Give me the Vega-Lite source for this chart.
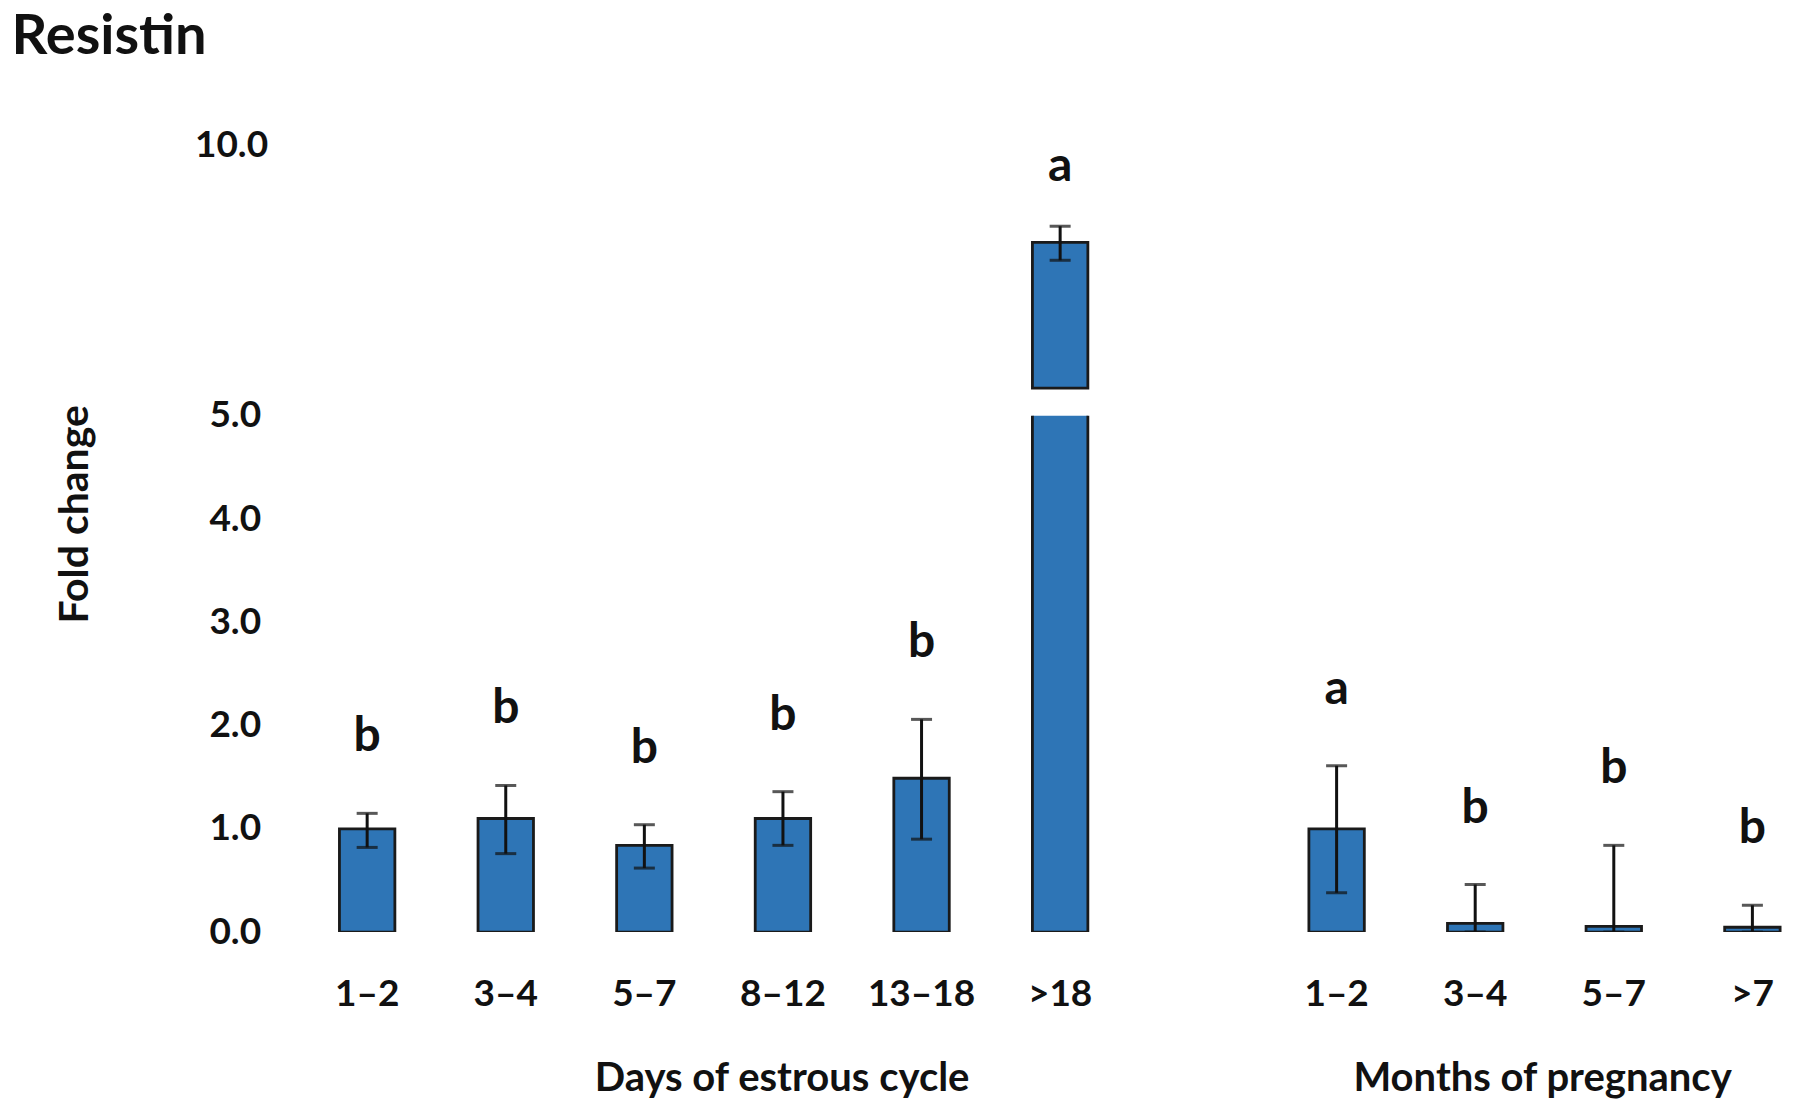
{
  "$schema": "https://vega.github.io/schema/vega-lite/v6.json",
  "background": "white",
  "padding": {"left": 11, "top": 9, "right": 0, "bottom": 0},
  "title": {"text": "Resistin", "anchor": "start", "frame": "group", "dx": -272.4, "offset": 60, "fontSize": 56, "font": "Lato", "fontWeight": "bold", "color": "#111111"},
  "config": {
    "view": {"stroke": null},
    "axis": {"domain": false, "ticks": false, "tickSize": 0, "grid": false, "labelFont": "Lato", "labelFontWeight": "bold", "labelFontSize": 37, "labelColor": "#111111", "titleFont": "Lato", "titleFontWeight": "bold", "titleFontSize": 40, "titleColor": "#111111", "labelOverlap": false}
  },
  "datasets": {
    "fc": [
      {"group": "estrous", "cat": "1–2", "mean": 1.0, "lo": 0.82, "hi": 1.15, "letter": "b"},
      {"group": "estrous", "cat": "3–4", "mean": 1.1, "lo": 0.76, "hi": 1.42, "letter": "b"},
      {"group": "estrous", "cat": "5–7", "mean": 0.84, "lo": 0.62, "hi": 1.04, "letter": "b"},
      {"group": "estrous", "cat": "8–12", "mean": 1.1, "lo": 0.84, "hi": 1.36, "letter": "b"},
      {"group": "estrous", "cat": "13–18", "mean": 1.49, "lo": 0.9, "hi": 2.06, "letter": "b"},
      {"group": "estrous", "cat": ">18", "mean": 8.0, "lo": 7.63, "hi": 8.33, "letter": "a"},
      {"group": "pregnancy", "cat": "1–2", "mean": 1.0, "lo": 0.38, "hi": 1.61, "letter": "a"},
      {"group": "pregnancy", "cat": "3–4", "mean": 0.085, "lo": 0, "hi": 0.46, "letter": "b"},
      {"group": "pregnancy", "cat": "5–7", "mean": 0.056, "lo": 0, "hi": 0.84, "letter": "b"},
      {"group": "pregnancy", "cat": ">7", "mean": 0.047, "lo": 0, "hi": 0.26, "letter": "b"}
    ]
  },
  "bounds": "flush",
  "spacing": 26.8,
  "vconcat": [
    {
      "width": 859.3,
      "height": 243.2,
      "data": {"name": "fc"},
      "transform": [{"filter": "datum.group == 'estrous' && datum.mean > 5"}],
      "encoding": {
        "x": {"field": "cat", "type": "nominal", "scale": {"domain": ["1–2", "3–4", "5–7", "8–12", "13–18", ">18"], "paddingInner": 0.6, "paddingOuter": 0.4}, "axis": null}
      },
      "layer": [
        {
          "mark": {"type": "bar", "fill": "#2E75B6", "stroke": "#1a1a1a", "strokeWidth": 2.8},
          "encoding": {
            "y": {"field": "mean", "type": "quantitative", "scale": {"domain": [5, 10], "nice": false, "zero": false}, "axis": {"values": [10], "format": ".1f", "labelPadding": 16.4, "title": null}},
            "y2": {"datum": 5}
          }
        },
        {
          "mark": {"type": "rule", "color": "#111111", "strokeWidth": 3},
          "encoding": {
            "y": {"field": "lo", "type": "quantitative", "scale": {"domain": [5, 10], "nice": false, "zero": false}},
            "y2": {"field": "hi"}
          }
        },
        {
          "mark": {"type": "tick", "color": "#111111", "size": 21, "thickness": 3},
          "encoding": {"y": {"field": "lo", "type": "quantitative", "scale": {"domain": [5, 10], "nice": false, "zero": false}}}
        },
        {
          "mark": {"type": "tick", "color": "#111111", "size": 21, "thickness": 3},
          "encoding": {"y": {"field": "hi", "type": "quantitative", "scale": {"domain": [5, 10], "nice": false, "zero": false}}}
        },
        {
          "mark": {"type": "text", "baseline": "alphabetic", "dy": -45, "font": "Lato", "fontWeight": "bold", "fontSize": 48, "color": "#111111"},
          "encoding": {
            "y": {"field": "hi", "type": "quantitative", "scale": {"domain": [5, 10], "nice": false, "zero": false}},
            "text": {"field": "letter"}
          }
        }
      ]
    },
    {
      "bounds": "flush",
      "spacing": 144.1,
      "hconcat": [
        {
          "width": 859.3,
          "height": 516.3,
          "data": {"name": "fc"},
          "transform": [{"filter": "datum.group == 'estrous'"}],
          "encoding": {
            "x": {"field": "cat", "type": "nominal", "scale": {"domain": ["1–2", "3–4", "5–7", "8–12", "13–18", ">18"], "paddingInner": 0.6, "paddingOuter": 0.4}, "axis": {"labelAngle": 0, "labelPadding": 73, "labelBaseline": "alphabetic", "title": "Days of estrous cycle", "titleX": 497.6, "titleY": 158.3, "titleBaseline": "alphabetic"}}
          },
          "layer": [
            {
              "mark": {"type": "bar", "fill": "#2E75B6", "stroke": "#1a1a1a", "strokeWidth": 2.8, "clip": true},
              "encoding": {
                "y": {"field": "mean", "type": "quantitative", "scale": {"domain": [0, 5], "nice": false}, "title": "Fold change", "axis": {"values": [0, 1, 2, 3, 4, 5], "format": ".1f", "labelPadding": 23.4, "titleX": -196.7, "titleY": 98, "titleBaseline": "alphabetic", "titleAngle": -90, "titleAlign": "center", "titleFontSize": 41}}
              }
            },
            {
              "mark": {"type": "rule", "color": "#111111", "strokeWidth": 3, "clip": true},
              "encoding": {
                "y": {"field": "lo", "type": "quantitative", "scale": {"domain": [0, 5], "nice": false}},
                "y2": {"field": "hi"}
              }
            },
            {
              "mark": {"type": "tick", "color": "#111111", "size": 21, "thickness": 3, "clip": true},
              "encoding": {"y": {"field": "lo", "type": "quantitative", "scale": {"domain": [0, 5], "nice": false}}}
            },
            {
              "mark": {"type": "tick", "color": "#111111", "size": 21, "thickness": 3, "clip": true},
              "encoding": {"y": {"field": "hi", "type": "quantitative", "scale": {"domain": [0, 5], "nice": false}}}
            },
            {
              "transform": [{"filter": "datum.hi < 5"}],
              "mark": {"type": "text", "baseline": "alphabetic", "dy": -62, "font": "Lato", "fontWeight": "bold", "fontSize": 48, "color": "#111111"},
              "encoding": {
                "y": {"field": "hi", "type": "quantitative", "scale": {"domain": [0, 5], "nice": false}},
                "text": {"field": "letter"}
              }
            }
          ]
        },
        {
          "width": 512.8,
          "height": 516.3,
          "data": {"name": "fc"},
          "transform": [{"filter": "datum.group == 'pregnancy'"}],
          "encoding": {
            "x": {"field": "cat", "type": "nominal", "scale": {"domain": ["1–2", "3–4", "5–7", ">7"], "paddingInner": 0.6, "paddingOuter": 0.15}, "axis": {"labelAngle": 0, "labelPadding": 73, "labelBaseline": "alphabetic", "title": "Months of pregnancy", "titleX": 254, "titleY": 158.3, "titleBaseline": "alphabetic"}}
          },
          "layer": [
            {
              "mark": {"type": "bar", "fill": "#2E75B6", "stroke": "#1a1a1a", "strokeWidth": 2.8, "clip": true},
              "encoding": {
                "y": {"field": "mean", "type": "quantitative", "scale": {"domain": [0, 5], "nice": false}, "axis": null}
              }
            },
            {
              "mark": {"type": "rule", "color": "#111111", "strokeWidth": 3, "clip": true},
              "encoding": {
                "y": {"field": "lo", "type": "quantitative", "scale": {"domain": [0, 5], "nice": false}, "axis": null},
                "y2": {"field": "hi"}
              }
            },
            {
              "mark": {"type": "tick", "color": "#111111", "size": 21, "thickness": 3, "clip": true},
              "encoding": {"y": {"field": "lo", "type": "quantitative", "scale": {"domain": [0, 5], "nice": false}, "axis": null}}
            },
            {
              "mark": {"type": "tick", "color": "#111111", "size": 21, "thickness": 3, "clip": true},
              "encoding": {"y": {"field": "hi", "type": "quantitative", "scale": {"domain": [0, 5], "nice": false}, "axis": null}}
            },
            {
              "mark": {"type": "text", "baseline": "alphabetic", "dy": -62, "font": "Lato", "fontWeight": "bold", "fontSize": 48, "color": "#111111"},
              "encoding": {
                "y": {"field": "hi", "type": "quantitative", "scale": {"domain": [0, 5], "nice": false}, "axis": null},
                "text": {"field": "letter"}
              }
            }
          ]
        }
      ]
    }
  ]
}
